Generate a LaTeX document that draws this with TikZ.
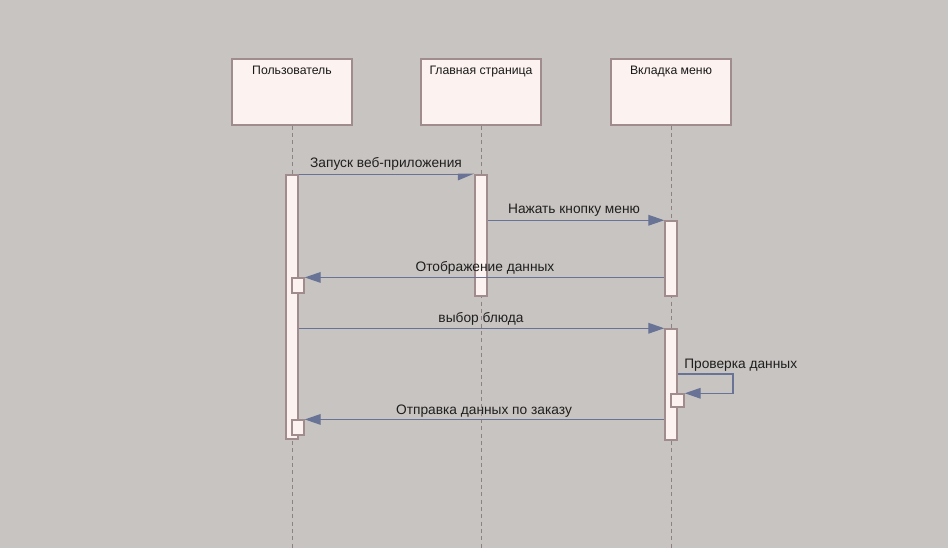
\documentclass[tikz,border=0pt]{standalone}
\usepackage{fontspec}
\setmainfont{Liberation Sans}
\usetikzlibrary{arrows.meta}
\definecolor{bgc}{RGB}{200,196,193}
\definecolor{boxfill}{RGB}{252,243,240}
\definecolor{boxline}{RGB}{160,140,140}
\definecolor{msgc}{RGB}{104,115,150}
\definecolor{lifec}{RGB}{140,130,130}
\begin{document}
\begin{tikzpicture}[x=0.75pt,y=-0.75pt,
  actor/.style={draw=boxline,line width=1.1pt,fill=boxfill,minimum width=90pt,minimum height=49.5pt,inner sep=0pt},
  actorlabel/.style={font=\fontsize{9.2pt}{11pt}\selectfont,anchor=north,inner sep=0pt,text=black!90},
  bar/.style={draw=boxline,line width=1.1pt,fill=boxfill,minimum width=9pt,inner sep=0pt},
  sbox/.style={draw=boxline,line width=1.1pt,fill=boxfill,minimum width=9pt,minimum height=11pt,inner sep=0pt},
  life/.style={draw=lifec,line width=0.6pt,dash pattern=on 3pt off 2.5pt},
  msg/.style={draw=msgc,line width=1pt,-{Triangle[length=12pt,width=8pt]}},
  amsg/.style={draw=msgc,line width=1pt,-{Triangle[length=11pt,width=9pt,right]}},
  mlabel/.style={font=\fontsize{10.3pt}{12pt}\selectfont,inner sep=0pt,text=black!88}]
\fill[bgc] (0,0) rectangle (948,548);
% actors
\node[actor] (pu) at (292,92) {};
\node[actor] (pg) at (481,92) {};
\node[actor] (pm) at (671,92) {};
\node[actorlabel] (lu) at (292,66) {Пользователь};
\node[actorlabel] (lg) at (481,66) {Главная страница};
\node[actorlabel] (lm) at (671,66) {Вкладка меню};
% lifeline ends
\coordinate (eu) at (292,548);
\coordinate (eg) at (481,548);
\coordinate (em) at (671,548);
\draw[life] (pu.south) -- (eu);
\draw[life] (pg.south) -- (eg);
\draw[life] (pm.south) -- (em);
% activation bars
\node[bar,minimum height=198pt] (ua) at (292,307) {};
\node[bar,minimum height=90.75pt] (ga) at (481,235.5) {};
\node[bar,minimum height=56.25pt] (ma) at (671,258.5) {};
\node[bar,minimum height=83.25pt] (mb) at (671,384.5) {};
\node[sbox] (u1) at (298,285.5) {};
\node[sbox] (u2) at (298,427.5) {};
\node[sbox,minimum width=9.75pt,minimum height=9.75pt] (m1) at (677.5,400.5) {};
% messages
\draw[amsg] (ua.north east) -- (ga.north west);
\node[mlabel] (t1) at (386,164) {Запуск веб-приложения};
\draw[msg] (ga.east |- ma.north) -- (ma.north west);
\node[mlabel] (t2) at (574,210) {Нажать кнопку меню};
\draw[msg] (ma.west |- u1.north) -- (u1.north east);
\node[mlabel] (t3) at (485,268) {Отображение данных};
\draw[msg] (ua.east |- mb.north) -- (mb.north west);
\node[mlabel] (t4) at (481,319) {выбор блюда};
\coordinate (s1) at (733,374);
\draw[msg] (mb.east |- s1) -- (s1) |- (m1.north east);
\node[mlabel,anchor=west] (t5) at (684,365) {Проверка данных};
\draw[msg] (mb.west |- u2.north) -- (u2.north east);
\node[mlabel] (t6) at (484,411) {Отправка данных по заказу};
\end{tikzpicture}
\end{document}
